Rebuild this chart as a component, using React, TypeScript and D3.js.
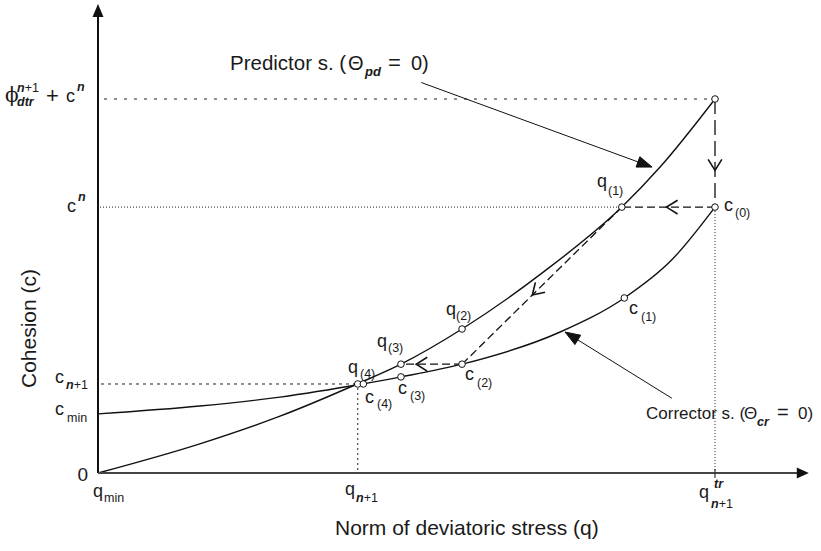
import React from "react";
import * as d3 from "d3";

const W = 821;
const H = 551;

// Sample points along the predictor surface (q, c)
const predictorQ = [0, 0.165, 0.295, 0.42, 0.491, 0.59, 0.72, 0.849, 0.911, 1.0];
const predictorC = [0, 0.078, 0.152, 0.238, 0.291, 0.385, 0.535, 0.711, 0.818, 1.0];

// Sample points along the corrector surface (q, c)
const correctorQ = [0, 0.165, 0.295, 0.428, 0.491, 0.59, 0.749, 0.853, 0.93, 1.0];
const correctorC = [0.158, 0.179, 0.203, 0.238, 0.257, 0.291, 0.377, 0.468, 0.57, 0.711];

// Iterates of the predictor-corrector scheme
const iterNames = ["trial", "c0", "q1", "c1", "q2", "c2", "q3", "c3", "q4", "c4"];
const iterQ = [1.0, 1.0, 0.849, 0.853, 0.59, 0.59, 0.491, 0.491, 0.421, 0.43];
const iterC = [1.0, 0.711, 0.711, 0.468, 0.385, 0.291, 0.291, 0.257, 0.238, 0.238];

// Dashed steps between iterates, with the position of the open arrow on each
const stepFrom = ["trial", "c0", "q1", "c2"];
const stepTo = ["c0", "q1", "c2", "q3"];
const stepArrowAt = [0.66, 0.52, 0.56, 0.75];

// Reference levels on the axes
const qMin = 0;
const qN1 = 0.421;
const qTr = 1.0;
const cN1 = 0.238;
const cN = 0.711;
const cTrial = 1.0;
const qAxisEnd = 1.152;
const cAxisEnd = 1.254;

// Callout arrows: start and tip in data units
const predCallout = [[0.524, 1.044], [0.898, 0.818]];
const corrCallout = [[0.93, 0.2], [0.757, 0.377]];

const FONT = "'Liberation Sans', Arial, Helvetica, sans-serif";

function idx(name: string) {
  return iterNames.indexOf(name);
}

export default function App() {
  const x = d3.scaleLinear().domain([0, 1]).range([98, 715]);
  const y = d3.scaleLinear().domain([0, 1]).range([473, 99]);

  const predPath = d3
    .line<number>()
    .x((q) => x(q))
    .y((_, i) => y(predictorC[i]))
    .curve(d3.curveMonotoneX)(predictorQ) as string;
  const corrPath = d3
    .line<number>()
    .x((q) => x(q))
    .y((_, i) => y(correctorC[i]))
    .curve(d3.curveMonotoneX)(correctorQ) as string;

  const x0 = x(qMin);
  const y0 = y(0);

  // open chevron pointing along (dx, dy) at tip
  const chevron = (tx: number, ty: number, dx: number, dy: number, len = 13, ang = 32) => {
    const a = Math.atan2(dy, dx) + Math.PI;
    const r = (ang * Math.PI) / 180;
    const p1 = [tx + len * Math.cos(a + r), ty + len * Math.sin(a + r)];
    const p2 = [tx + len * Math.cos(a - r), ty + len * Math.sin(a - r)];
    return `M${p1[0]},${p1[1]}L${tx},${ty}L${p2[0]},${p2[1]}`;
  };
  // filled triangle head
  const head = (tx: number, ty: number, dx: number, dy: number, len = 15, half = 5.5) => {
    const l = Math.hypot(dx, dy);
    const ux = dx / l;
    const uy = dy / l;
    const bx = tx - ux * len;
    const by = ty - uy * len;
    return `M${tx},${ty}L${bx - uy * half},${by + ux * half}L${bx + uy * half},${by - ux * half}Z`;
  };

  const steps = stepFrom.map((f, k) => {
    const a = idx(f);
    const b = idx(stepTo[k]);
    const ax = x(iterQ[a]);
    const ay = y(iterC[a]);
    const bx = x(iterQ[b]);
    const by = y(iterC[b]);
    const t = stepArrowAt[k];
    const tx = ax + (bx - ax) * t;
    const ty = ay + (by - ay) * t;
    return { ax, ay, bx, by, arrow: chevron(tx, ty, bx - ax, by - ay), vertical: ax === bx };
  });

  const callout = (c: number[][]) => {
    const sx = x(c[0][0]);
    const sy = y(c[0][1]);
    const tx = x(c[1][0]);
    const ty = y(c[1][1]);
    const l = Math.hypot(tx - sx, ty - sy);
    const ex = tx - ((tx - sx) / l) * 12;
    const ey = ty - ((ty - sy) / l) * 12;
    return { sx, sy, ex, ey, head: head(tx, ty, tx - sx, ty - sy) };
  };
  const pc = callout(predCallout);
  const cc = callout(corrCallout);

  const main = 18;
  const small = 12.5;
  const bi = { fontStyle: "italic" as const, fontWeight: 700 };

  return (
    <svg width={W} height={H} style={{ position: "absolute", left: 0, top: 0, background: "#fff" }} fontFamily={FONT}>
      <rect width={W} height={H} fill="#fff" />

      {/* guide lines */}
      <g fill="none" stroke="#222" strokeWidth={1}>
        <line x1={x0 + 6} x2={x(qTr)} y1={y(cTrial)} y2={y(cTrial)} strokeDasharray="3,7" />
        <line x1={x0 + 2} x2={x(iterQ[idx("q1")])} y1={y(cN)} y2={y(cN)} strokeDasharray="1,2" />
        <line x1={x0 + 3} x2={x(qN1)} y1={y(cN1)} y2={y(cN1)} strokeDasharray="3,4" />
        <line x1={x(qTr)} x2={x(qTr)} y1={y(cN) + 4} y2={y0} strokeDasharray="1,2" />
        <line x1={x(qN1)} x2={x(qN1)} y1={y(cN1) + 4} y2={y0} strokeDasharray="2,3" />
      </g>

      {/* surfaces */}
      <path d={predPath} fill="none" stroke="#111" strokeWidth={1.4} />
      <path d={corrPath} fill="none" stroke="#111" strokeWidth={1.4} />

      {/* iteration steps */}
      <g fill="none" stroke="#111" strokeWidth={1.3}>
        {steps.map((s, i) => (
          <g key={i}>
            <line x1={s.ax} y1={s.ay} x2={s.bx} y2={s.by} strokeDasharray={s.vertical ? "15,6" : "8,4"} />
            <path d={s.arrow} strokeWidth={1.6} />
          </g>
        ))}
      </g>

      {/* callouts */}
      <g stroke="#111" strokeWidth={1}>
        <line x1={pc.sx} y1={pc.sy} x2={pc.ex} y2={pc.ey} />
        <path d={pc.head} fill="#111" />
        <line x1={cc.sx} y1={cc.sy} x2={cc.ex} y2={cc.ey} />
        <path d={cc.head} fill="#111" />
      </g>

      {/* axes */}
      <line x1={x0} x2={x0} y1={y0} y2={y(cAxisEnd) + 10} stroke="#111" strokeWidth={2} />
      <path d={head(x0, y(cAxisEnd), 0, -1, 13, 5.5)} fill="#111" />
      <line x1={x0} x2={x(qAxisEnd) - 10} y1={y0} y2={y0} stroke="#444" strokeWidth={2.2} />
      <path d={head(x(qAxisEnd), y0, 1, 0, 12, 5.5)} fill="#111" />
      <line x1={x(qTr)} x2={x(qTr)} y1={y0 - 4} y2={y0 + 5} stroke="#333" strokeWidth={1.2} />

      {/* iterate markers */}
      {iterNames.map((n, i) => (
        <circle key={n} cx={x(iterQ[i])} cy={y(iterC[i])} r={3.3} fill="#fff" stroke="#111" strokeWidth={1} />
      ))}

      <g fill="#1a1a1a">
        {/* y-axis labels */}
        <text x={5} y={102} fontSize={main + 2} fontFamily="'DejaVu Serif', serif">ϕ</text>
        <text x={17} y={92} fontSize={small}>
          <tspan {...bi}>n</tspan>+1
        </text>
        <text x={17} y={106} fontSize={small} {...bi}>dtr</text>
        <text x={46} y={103} fontSize={main + 4}>+</text>
        <text x={66} y={102} fontSize={main}>c</text>
        <text x={77} y={91} fontSize={small} {...bi}>n</text>

        <text x={67} y={212} fontSize={main}>c</text>
        <text x={78} y={201} fontSize={small} {...bi}>n</text>

        <text x={55} y={383} fontSize={main}>c</text>
        <text x={66} y={389} fontSize={small}>
          <tspan {...bi}>n</tspan>+1
        </text>

        <text x={55} y={415} fontSize={main}>c</text>
        <text x={67} y={422} fontSize={small}>min</text>

        <text x={88} y={481} fontSize={main + 1} textAnchor="end">0</text>

        {/* x-axis labels */}
        <text x={93} y={497} fontSize={main}>q</text>
        <text x={104} y={502} fontSize={small}>min</text>

        <text x={345} y={495} fontSize={main}>q</text>
        <text x={356} y={502} fontSize={small}>
          <tspan {...bi}>n</tspan>+1
        </text>

        <text x={699} y={498} fontSize={main}>q</text>
        <text x={714} y={488} fontSize={small} {...bi}>tr</text>
        <text x={711} y={508} fontSize={small}>
          <tspan {...bi}>n</tspan>+1
        </text>

        {/* axis titles */}
        <text x={335} y={535} fontSize={21}>Norm of deviatoric stress (q)</text>
        <text transform="translate(36,388) rotate(-90)" fontSize={21}>Cohesion (c)</text>

        {/* iterate labels */}
        <text x={597} y={187} fontSize={main}>q</text>
        <text x={608} y={195} fontSize={small}>(1)</text>
        <text x={724} y={211} fontSize={main}>c</text>
        <text x={735} y={217} fontSize={small}>(0)</text>
        <text x={629} y={314} fontSize={main}>c</text>
        <text x={641} y={321} fontSize={small}>(1)</text>
        <text x={446} y={315} fontSize={main}>q</text>
        <text x={456} y={320} fontSize={small}>(2)</text>
        <text x={465} y={380} fontSize={main}>c</text>
        <text x={477} y={387} fontSize={small}>(2)</text>
        <text x={377} y={347} fontSize={main}>q</text>
        <text x={388} y={352} fontSize={small}>(3)</text>
        <text x={398} y={394} fontSize={main}>c</text>
        <text x={410} y={400} fontSize={small}>(3)</text>
        <text x={348} y={373} fontSize={main}>q</text>
        <text x={360} y={378} fontSize={small}>(4)</text>
        <text x={365} y={403} fontSize={main}>c</text>
        <text x={377} y={408} fontSize={small}>(4)</text>

        {/* surface names */}
        <text x={230} y={70} fontSize={20.5}>Predictor s. (</text>
        <text x={348} y={70} fontSize={20}>Θ</text>
        <text x={365} y={76} fontSize={small + 0.5} {...bi}>pd</text>
        <text x={388} y={70} fontSize={22}>=</text>
        <text x={411} y={70} fontSize={20}>0)</text>

        <text x={646} y={419} fontSize={17}>Corrector s. (</text>
        <text x={744} y={419} fontSize={17}>Θ</text>
        <text x={757} y={426} fontSize={small} {...bi}>cr</text>
        <text x={777} y={419} fontSize={20}>=</text>
        <text x={798} y={419} fontSize={17}>0)</text>
      </g>
    </svg>
  );
}
